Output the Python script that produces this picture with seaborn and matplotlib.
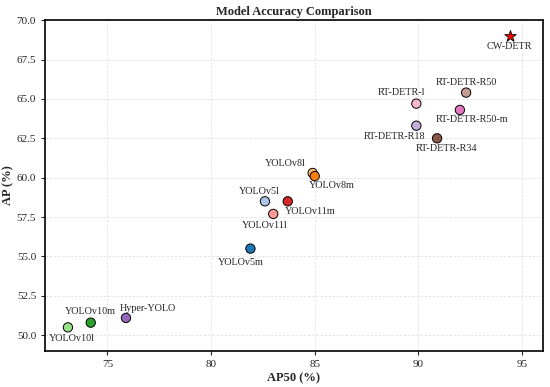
import pandas as pd
import matplotlib
matplotlib.use("Agg")
import matplotlib.pyplot as plt
import seaborn as sns

# Data
models = ["YOLOv5l", "YOLOv5m", "YOLOv8l", "YOLOv8m", "YOLOv10l", "YOLOv10m",
          "YOLOv11l", "YOLOv11m", "Hyper-YOLO", "RT-DETR-R18", "RT-DETR-R34",
          "RT-DETR-R50", "RT-DETR-R50-m", "RT-DETR-l"]
ap50 = [82.6, 81.9, 84.9, 85.0, 73.1, 74.2, 83.0, 83.7, 75.9, 89.9, 90.9, 92.3, 92.0, 89.9]
ap = [58.5, 55.5, 60.3, 60.1, 50.5, 50.8, 57.7, 58.5, 51.1, 63.3, 62.5, 65.4, 64.3, 64.7]
colors = ["#aec7e8", "#1f77b4", "#ffbb78", "#ff7f0e", "#98df8a", "#2ca02c",
          "#ff9896", "#d62728", "#9467bd", "#c5b0d5", "#8c564b",
          "#c49c94", "#e377c2", "#f7b6d2"]

ours_name = "CW-DETR"
ours_ap50 = 94.4
ours_ap = 69.0

# label offsets in points (dx, dy)
offsets = {
    "YOLOv5l": (-4, 7), "YOLOv5m": (-7, -10), "YOLOv8l": (-20, 7),
    "YOLOv8m": (12, -7), "YOLOv10l": (3, -8), "YOLOv10m": (0, 8),
    "YOLOv11l": (-6, -8), "YOLOv11m": (16, -7), "Hyper-YOLO": (16, 7),
    "RT-DETR-R18": (-16, -8), "RT-DETR-R34": (7, -7), "RT-DETR-R50": (0, 7),
    "RT-DETR-R50-m": (9, -7), "RT-DETR-l": (-11, 8), "CW-DETR": (0, -8),
}

df = pd.DataFrame({"Model": models, "AP50": ap50, "AP": ap})

sns.set_style("ticks")
plt.rcParams['font.family'] = ['Liberation Serif', 'DejaVu Serif']

fig, ax = plt.subplots(figsize=(5.5, 3.87), dpi=100)
sns.scatterplot(data=df, x="AP50", y="AP", hue="Model", palette=dict(zip(models, colors)),
                s=45, edgecolor="black", linewidth=0.7, legend=False, ax=ax, zorder=3)
sns.scatterplot(x=[ours_ap50], y=[ours_ap], marker="*", color="red", s=75,
                edgecolor="black", linewidth=0.6, legend=False, ax=ax, zorder=4)

for name, x, y in list(zip(models, ap50, ap)) + [(ours_name, ours_ap50, ours_ap)]:
    dx, dy = offsets[name]
    ax.annotate(name, (x, y), xytext=(dx, dy), textcoords="offset points",
                ha="center", va="center", fontsize=7.3)

ax.set_xlim(72, 96)
ax.set_ylim(49, 70)
ax.set_xticks([75, 80, 85, 90, 95])
ax.set_yticks([50, 52.5, 55, 57.5, 60, 62.5, 65, 67.5, 70])
ax.yaxis.set_major_formatter(matplotlib.ticker.FormatStrFormatter('%.1f'))
ax.tick_params(labelsize=8, length=3, width=0.8)
ax.grid(True, linestyle=(0, (3, 2)), color="#e0e0e0", linewidth=0.6)
for sp in ax.spines.values():
    sp.set_color("black")
    sp.set_linewidth(1.2)
ax.set_xlabel("AP50 (%)", fontsize=9, fontweight="bold", labelpad=2)
ax.set_ylabel("AP (%)", fontsize=9, fontweight="bold", labelpad=2)
ax.set_title("Model Accuracy Comparison", fontsize=9, fontweight="bold", pad=4)

fig.subplots_adjust(left=0.082, right=0.987, top=0.948, bottom=0.093)
fig.savefig("out.png", dpi=100)
